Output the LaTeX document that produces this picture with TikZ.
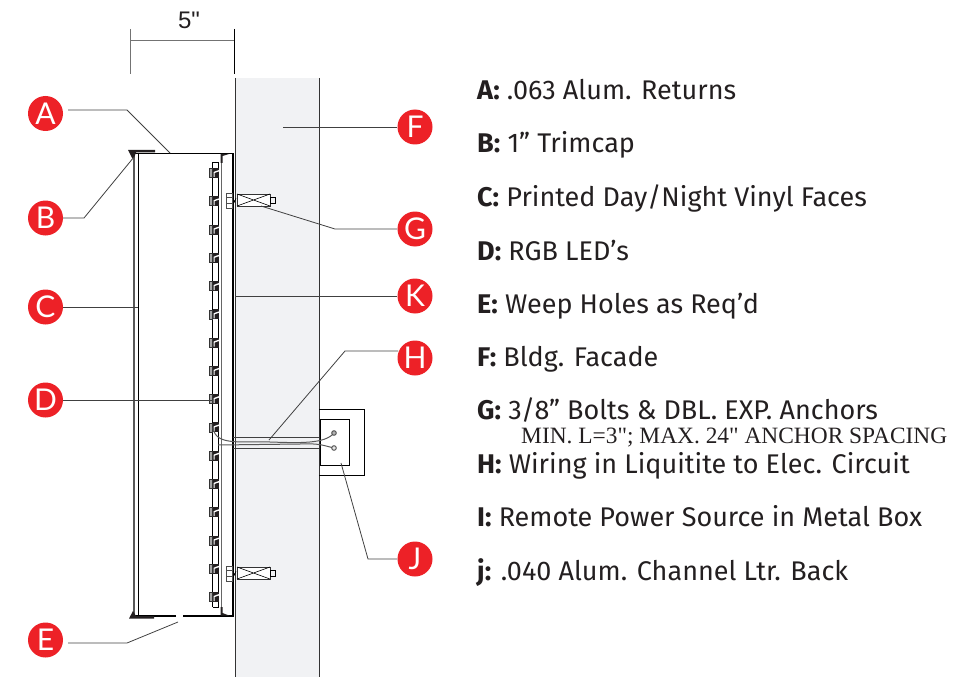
\documentclass[tikz,border=0pt]{standalone}
\usepackage{fontspec}
\setmainfont{Fira Sans}
\newfontfamily\serifnote{Liberation Serif}
\newfontfamily\dimfont{Liberation Sans}
\newfontfamily\tagfont{Lato}
\definecolor{tagred}{HTML}{ED2127}
\definecolor{facade}{HTML}{F1F2F4}
\definecolor{txt}{HTML}{231F20}
\tikzset{
  tag/.style={circle,fill=tagred,text=white,minimum size=35pt,inner sep=0pt,font=\tagfont\fontsize{30}{30}\selectfont},
  leader/.style={draw=black!75,line width=0.8pt},
  item/.style={anchor=base west,inner sep=0pt,text=txt,font=\fontsize{27}{30}\selectfont},
  wall/.style={draw=black!80,line width=0.9pt},
  wire/.style={draw=black!65,line width=1pt}
}
\newcommand{\boltset}[1]{%
  \filldraw[draw=black!70,fill=white,line width=0.7pt] (226,#1-7) rectangle (232,#1+8);
  \draw[draw=black!70,line width=0.5pt] (226,#1-3)--(232,#1-3) (226,#1+3)--(232,#1+3);
  \draw[line width=0.6pt] (233,#1-2)--(234.5,#1+2)--(236,#1-2);
  \filldraw[draw=black!80,fill=white,line width=0.8pt] (237,#1-6) rectangle (270,#1+6);
  \draw[line width=0.6pt] (237,#1-6)--(270,#1+6) (237,#1+6)--(270,#1-6);
  \draw[line width=0.7pt] (270,#1-3) rectangle (275.5,#1+3);
}
\begin{document}
\begin{tikzpicture}[x=1pt,y=-1pt]
  \useasboundingbox (0,0) rectangle (979,679);
  % facade
  \fill[facade] (235,78) rectangle (319,677);
  \draw[wall] (235,78)--(235,677);
  \draw[wall] (319,78)--(319,677);
  % 5 inch dimension
  \draw[draw=black!55,line width=0.9pt] (130,29)--(130,74);
  \draw[draw=black,line width=0.8pt] (234,29)--(234,74);
  \draw[draw=black!55,line width=1pt] (130,41)--(234,41);
  \node[inner sep=0pt,text=txt,font=\dimfont\fontsize{24}{24}\selectfont] (dim) at (189,20) {5"};
  % letter body
  \draw[line width=1.1pt] (135,153.5)--(233,153.5)--(233,616)--(183,616);
  \draw[line width=1.1pt] (176,616)--(135,616);
  \draw[draw=black!65,line width=1.2pt] (134,153)--(134,616);
  \draw[line width=1.1pt] (138.5,153)--(138.5,616);
  % trimcap
  \fill[txt] (128,150)--(155,150)--(155,152.5)--(136,152.5)--(134,158)--(132,158)--cycle;
  \fill[txt] (129,618.5)--(154,618.5)--(154,616)--(136,616)--(133,611)--cycle;
  % led rail
  \draw[line width=1.2pt] (212.7,162.5)--(212.7,607);
  \draw[line width=1.2pt] (218.5,162.5)--(218.5,607);
  \draw[draw=black!60,line width=1.7pt] (221.5,154)--(221.5,615);
  \draw[line width=0.6pt] (212.7,162.5)--(218.5,162.5) (212.7,607)--(218.5,607);
  \fill[txt] (220.5,154)--(229,154)--(222.5,156)--(222.5,163)--(220.5,163)--cycle;
  \fill[txt] (220.5,615.5)--(229,615.5)--(222.5,613)--(222.5,607)--(220.5,607)--cycle;
  \foreach \i in {0,...,15}{
    \pgfmathsetmacro{\ledy}{173+28.27*\i}
    \filldraw[draw=black!80,fill=black!35,line width=0.7pt] (209,\ledy-4.5) rectangle (212.7,\ledy+4.5);
    \fill[txt] (212.7,\ledy-5) rectangle (219,\ledy+5);
    \fill[white] (214.5,\ledy+4)--(214.5,\ledy)--(217.2,\ledy-1)--(219,\ledy-1.5)--(219,\ledy-3)--(216,\ledy-2)--(213.6,\ledy-1)--(213.6,\ledy+4)--cycle;
  }
  % anchors
  \boltset{200}
  \boltset{573}
  % conduit and power box
  \draw[draw=black!75,line width=1pt] (233,437)--(319,437);
  \draw[draw=black!75,line width=1pt] (233,448)--(319,448);
  \draw[line width=1pt] (319,409)--(364,409)--(364,475)--(319,475);
  \draw[line width=1pt] (320,419)--(349,419)--(349,465)--(320,465)--cycle;
  \draw[wire] (213,428) .. controls (216,446) and (240,441) .. (270,442) .. controls (300,443) and (325,444) .. (334,433);
  \draw[wire] (218,445) -- (300,444) .. controls (320,443) and (325,446) .. (334,448);
  \filldraw[draw=black!70,fill=black!30,line width=0.9pt] (334,433) circle[radius=2.3];
  \filldraw[draw=black!70,fill=black!10,line width=0.9pt] (334,448) circle[radius=2.3];
  % tags
  \node[tag] (tagA) at (45.5,113.5) {A};
  \node[tag] (tagB) at (45.5,218) {B};
  \node[tag] (tagC) at (45.5,307) {C};
  \node[tag] (tagD) at (45.5,400) {D};
  \node[tag] (tagE) at (45.5,640) {E};
  \node[tag] (tagF) at (415,127) {F};
  \node[tag] (tagG) at (415,229) {G};
  \node[tag] (tagK) at (415,296) {K};
  \node[tag] (tagH) at (415,358) {H};
  \node[tag] (tagJ) at (415,559) {J};
  % leaders
  \coordinate (startA) at (68,110);
  \coordinate (startE) at (68,643);
  \coordinate (startH) at (398,351);
  \coordinate (endA) at (170,153);
  \coordinate (endB) at (134,157);
  \coordinate (endC) at (138,307);
  \coordinate (endD) at (213,400);
  \coordinate (endE) at (178,622);
  \coordinate (endF) at (283,127);
  \coordinate (endG) at (261,206);
  \coordinate (endK) at (235,296);
  \coordinate (endH) at (269,440);
  \coordinate (endJ) at (341,463);
  \draw[leader] (startA)--(127,110)--(endA);
  \draw[leader] (tagB.east)--(84,218)--(endB);
  \draw[leader] (tagC.east)--(endC);
  \draw[leader] (tagD.east)--(endD);
  \draw[leader] (startE)--(127,643)--(endE);
  \draw[leader] (tagF.west)--(endF);
  \draw[leader] (tagG.west)--(335,229)--(endG);
  \draw[leader] (tagK.west)--(endK);
  \draw[leader] (startH)--(345,351)--(endH);
  \draw[leader] (tagJ.west)--(368,559)--(endJ);
  % parts list
  \node[item] (itemA) at (477,100) {\textbf{A:} .063 Alum. Returns};
  \node[item] (itemB) at (477,153) {\textbf{B:} 1” Trimcap};
  \node[item] (itemC) at (477,206) {\textbf{C:} Printed Day/Night Vinyl Faces};
  \node[item] (itemD) at (477,260) {\textbf{D:} RGB LED’s};
  \node[item] (itemE) at (477,313) {\textbf{E:} Weep Holes as Req’d};
  \node[item] (itemF) at (477,366) {\textbf{F:} Bldg. Facade};
  \node[item] (itemG) at (477,419) {\textbf{G:} 3/8” Bolts \& DBL. EXP. Anchors};
  \node[item,font=\serifnote\fontsize{23.4}{24}\selectfont] (itemGnote) at (521,443) {MIN. L=3"; MAX. 24" ANCHOR SPACING};
  \node[item] (itemH) at (477,473) {\textbf{H:} Wiring in Liquitite to Elec. Circuit};
  \node[item] (itemI) at (477,526) {\textbf{I:} Remote Power Source in Metal Box};
  \node[item] (itemJ) at (477,580) {\textbf{j:} .040 Alum. Channel Ltr. Back};
\end{tikzpicture}
\end{document}
